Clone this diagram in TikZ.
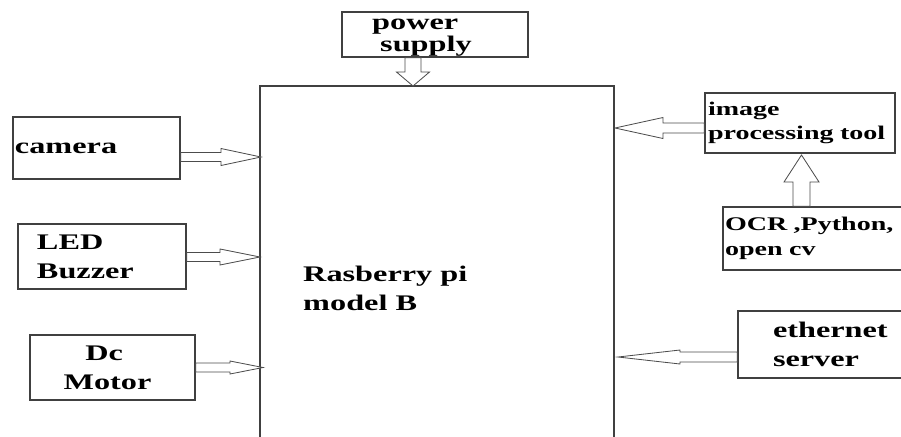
\documentclass[tikz,border=0pt]{standalone}
\usepackage{fontspec}
\newfontfamily\blockfont{Liberation Serif}[FakeStretch=1.45]
\usetikzlibrary{calc}

\tikzset{
  block/.style={draw=black!75, line width=1.1pt, inner ysep=0pt, align=left},
  bigtext/.style={font=\blockfont\bfseries\fontsize{19}{25}\selectfont},
  smalltext/.style={font=\blockfont\bfseries\fontsize{16.5}{21}\selectfont},
  fatline/.style={draw=black!70, line width=0.7pt, fill=white, line join=miter},
}

% hollow arrow: start, tip, shaft half width, head half width, head length (px)
\newcommand{\fatarrow}[5]{%
  \coordinate (h) at ($(#2)!#5*0.03cm!(#1)$);
  \draw[fatline] ($(#1)!#3*0.03cm!90:(#2)$) -- ($(h)!#3*0.03cm!90:(#2)$)
    -- ($(h)!#4*0.03cm!90:(#2)$) -- (#2) -- ($(h)!#4*0.03cm!-90:(#2)$)
    -- ($(h)!#3*0.03cm!-90:(#2)$) -- ($(#1)!#3*0.03cm!-90:(#2)$) -- cycle;
}

\begin{document}
\begin{tikzpicture}[x=0.03cm, y=-0.03cm]
\useasboundingbox (0,0) rectangle (901,436);
\clip (0,0) rectangle (901,436);

% Blocchi
\node[block, bigtext, minimum width=10.62cm, minimum height=10.92cm] (main) at (437,268) {};
\node[bigtext, inner sep=0pt, align=left, anchor=north west] (mainlbl) at (303,266)
  {Rasberry pi\\model B};

\node[block, minimum width=5.58cm, minimum height=1.35cm] (power) at (435,34.5) {};
\node[bigtext, inner sep=0pt, align=left, anchor=north west] (powerlbl) at (372,18.5)
  {power\\[-6pt]\hspace{0.24cm}supply};
\node[block, bigtext, inner xsep=0.06cm, text width=4.89cm, minimum height=1.86cm] (camera) at (96.5,148)
  {camera};
\node[block, bigtext, inner xsep=0.57cm, text width=3.9cm, minimum height=1.95cm] (led) at (102,256.5)
  {LED\\Buzzer};
\node[block, bigtext, inner xsep=0.06cm, text width=4.83cm, minimum height=1.95cm, align=center] (motor) at (112.5,367.5)
  {\hspace{-0.5cm}Dc\\\hspace{-0.3cm}Motor};

\node[block, smalltext, inner xsep=0.09cm, text width=5.52cm, minimum height=1.8cm] (image) at (800,123)
  {image\\processing tool};
\node[block, smalltext, inner xsep=0.06cm, text width=5.79cm, minimum height=1.89cm] (ocr) at (821.5,238.5)
  {OCR ,Python,\\open cv};
\node[block, bigtext, inner xsep=1.05cm, text width=3.36cm, minimum height=2.01cm] (ether) at (829,344.5)
  {ethernet\\server};

% Punte delle frecce
\coordinate (pwrtip) at (413,86);
\coordinate (camtip) at (261,157);
\coordinate (ledtip) at (260,257);
\coordinate (mottip) at (263,367.5);
\coordinate (imgtip) at (615,128);
\coordinate (ocrtip) at (801.5,155);
\coordinate (ethtip) at (618,357);

% Frecce
\fatarrow{power.south -| pwrtip}{pwrtip}{8}{16.5}{14}
\fatarrow{camera.east |- camtip}{camtip}{4.5}{8.5}{40}
\fatarrow{led.east |- ledtip}{ledtip}{4.5}{8}{40}
\fatarrow{motor.east |- mottip}{mottip}{4.5}{6.5}{33}
\fatarrow{image.west |- imgtip}{imgtip}{5}{10.5}{48}
\fatarrow{ocr.north -| ocrtip}{ocrtip}{8.5}{17.5}{27}
\fatarrow{ether.west |- ethtip}{ethtip}{5}{7}{62}

\end{tikzpicture}
\end{document}
